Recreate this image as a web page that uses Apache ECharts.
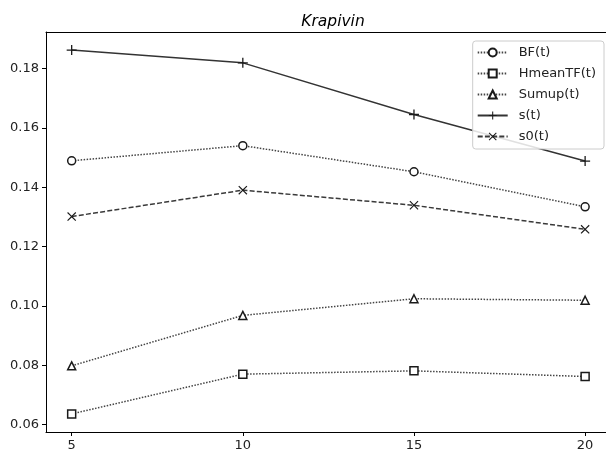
<!DOCTYPE html>
<html><head><meta charset="utf-8">
<script src="https://cdn.jsdelivr.net/npm/echarts@6/dist/echarts.min.js"></script>
<style>html,body{margin:0;padding:0;background:#fff}#c{width:606px;height:455px}</style>
</head><body><div id="c"></div>
<script>
const xValues = [5, 10, 15, 20];
const bf = [0.1489, 0.1540, 0.1452, 0.1334];
const hmeanTF = [0.0636, 0.0770, 0.0781, 0.0762];
const sumup = [0.0798, 0.0968, 0.1024, 0.1019];
const sT = [0.1862, 0.1819, 0.1645, 0.1488];
const s0T = [0.1301, 0.1390, 0.1339, 0.1258];
const yTicks = [0.06, 0.08, 0.10, 0.12, 0.14, 0.16, 0.18];
const xTicks = [5, 10, 15, 20];
const seriesNames = ['BF(t)', 'HmeanTF(t)', 'Sumup(t)', 's(t)', 's0(t)'];

const plusPath = 'path://M0,4.35H10V5.65H0Z M4.35,0H5.65V10H4.35Z';
const xPath = 'path://M0.9,0L5,4.1L9.1,0L10,0.9L5.9,5L10,9.1L9.1,10L5,5.9L0.9,10L0,9.1L4.1,5L0,0.9Z';

function pts(arr){ return xValues.map((x,i)=>[x, arr[i]]); }
function mk(name, data, symbol, size, ltype, fill, lcolor){
  return {
    name, type:'line', data: pts(data), symbol, symbolSize: size,
    lineStyle:{color:lcolor, width:1.5, type:ltype},
    itemStyle:{color: fill, borderColor:'#1a1a1a', borderWidth: fill==='#fff'?1.5:0},
    emphasis:{disabled:true}, animation:false
  };
}
const chart = echarts.init(document.getElementById('c'));
chart.setOption({
  animation:false,
  title:{text:'Krapivin', left:328, textAlign:'center', top:9,
    textStyle:{fontFamily:'DejaVu Sans', fontStyle:'italic', fontWeight:'normal', fontSize:15.5, color:'#000'}},
  grid:{left:46, top:32, right:0, height:400, show:false, containLabel:false},
  xAxis:[{type:'value', min:4.25, max:20.61,
    axisLine:{lineStyle:{color:'#000'}}, splitLine:{show:false},
    axisTick:{customValues:xTicks, length:4, lineStyle:{color:'#000'}},
    axisLabel:{customValues:xTicks, color:'#222', fontFamily:'DejaVu Sans', fontSize:13, margin:7}},
    {type:'value', position:'top', min:4.25, max:20.61,
    axisLine:{show:true, lineStyle:{color:'#000'}}, axisTick:{show:false}, axisLabel:{show:false}, splitLine:{show:false}}],
  yAxis:{type:'value', min:0.0575, max:0.1923,
    axisLine:{show:true, lineStyle:{color:'#000'}}, splitLine:{show:false},
    axisTick:{show:true, customValues:yTicks, length:4, lineStyle:{color:'#000'}},
    axisLabel:{customValues:yTicks, color:'#222', fontFamily:'DejaVu Sans', fontSize:13, margin:7,
      formatter:v=>v.toFixed(2)}},
  legend:{data:seriesNames, orient:'vertical', right:2, top:41, itemWidth:30, itemHeight:10, itemGap:8,
    backgroundColor:'rgba(255,255,255,0.85)', borderColor:'#ccc', borderWidth:1, borderRadius:3,
    padding:[5,8,6,4],
    textStyle:{fontFamily:'DejaVu Sans', fontSize:13, color:'#222', padding:[0,0,0,6]}},
  series:[
    mk('BF(t)', bf, 'circle', 8, [1.5,1.5], '#fff', '#444'),
    mk('HmeanTF(t)', hmeanTF, 'rect', 8, [1.5,1.5], '#fff', '#444'),
    mk('Sumup(t)', sumup, 'triangle', 8, [1.5,1.5], '#fff', '#444'),
    mk('s(t)', sT, plusPath, 10, 'solid', '#1a1a1a', '#333'),
    mk('s0(t)', s0T, xPath, 9, [5,2.2], '#1a1a1a', '#3a3a3a')
  ]
});
</script></body></html>
